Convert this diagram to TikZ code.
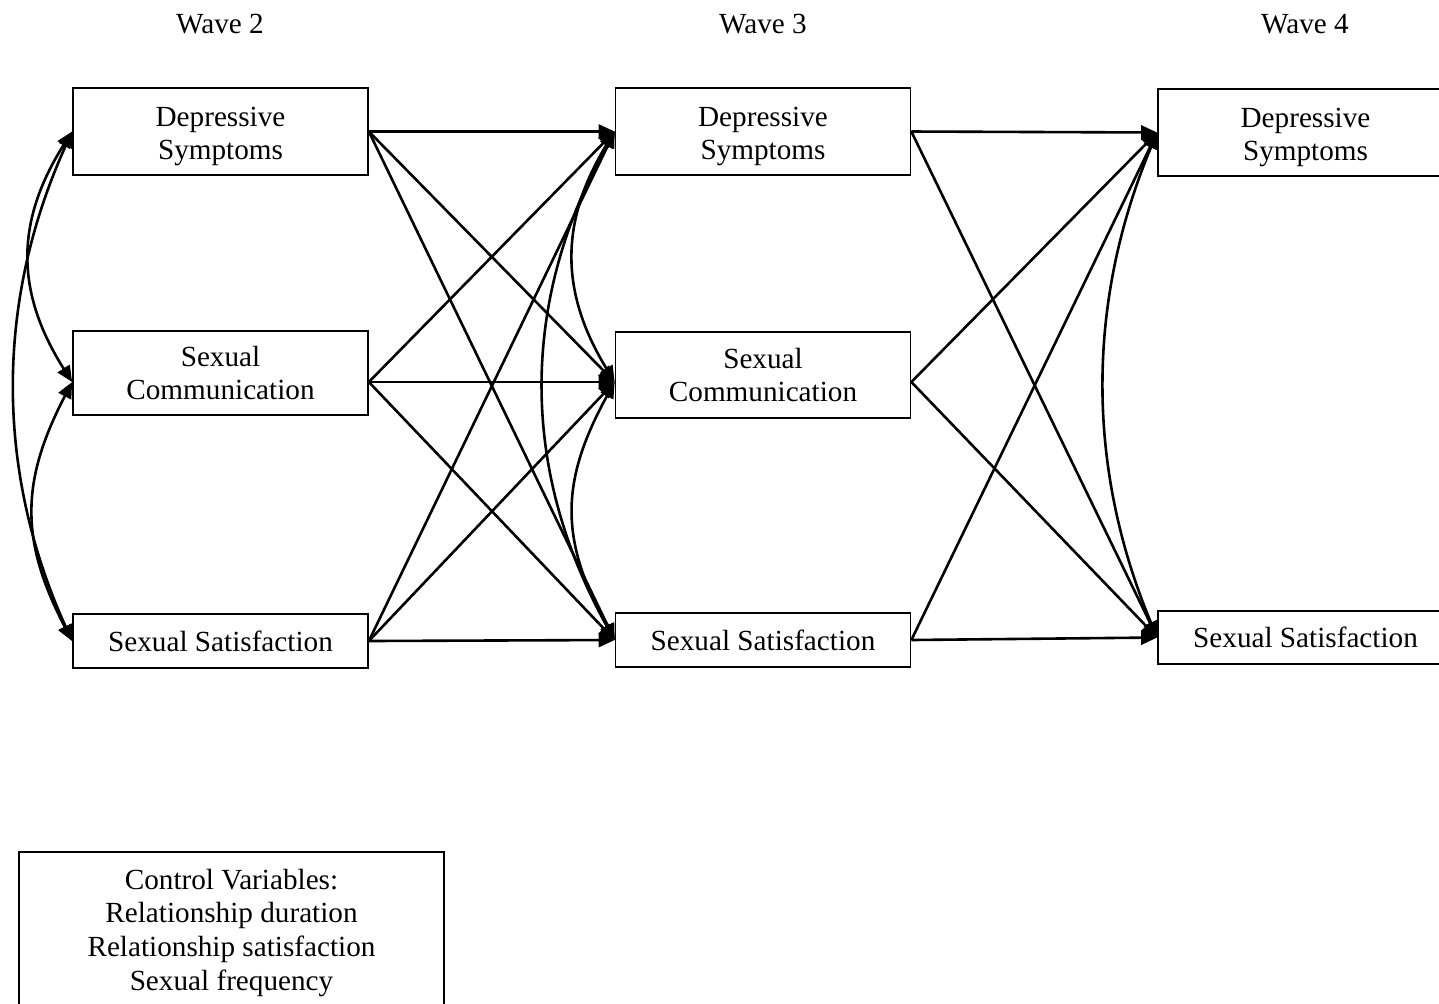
\documentclass[tikz,border=0pt]{standalone}
\usepackage{fontspec}
\setmainfont{Liberation Serif}
\usetikzlibrary{arrows.meta}
\begin{document}
\begin{tikzpicture}[x=0.5pt,y=-0.5pt,
  txt/.style={font=\fontsize{14.6pt}{16.6pt}\selectfont},
  box/.style={txt,draw,line width=0.85pt,minimum width=147.5pt,inner sep=0pt,align=center},
  tipA/.tip={Triangle[length=8pt,width=7pt]},
  reg/.style={-tipA,line width=1.3pt},
  cov/.style={tipA-tipA,line width=1.3pt}]
\clip (0,0) rectangle (1439,1003);
\fill[white] (0,0) rectangle (1439,1003);
% wave labels
\node[txt] (w2) at (220,24) {Wave 2};
\node[txt] (w3) at (763,24) {Wave 3};
\node[txt] (w4) at (1305,24) {Wave 4};
% wave 2
\node[box,minimum height=43.5pt] (ds2) at (220.5,131.5) {\rule{0pt}{14.5pt}Depressive\\Symptoms};
\node[box,minimum height=42pt] (sc2) at (220.5,373) {Sexual\\Communication};
\node[box,minimum height=27pt] (ss2) at (220.5,641) {Sexual Satisfaction};
% wave 3
\node[box,minimum height=43.5pt] (ds3) at (763,131.5) {\rule{0pt}{14.5pt}Depressive\\Symptoms};
\node[box,minimum height=43pt] (sc3) at (763,375) {Sexual\\Communication};
\node[box,minimum height=27pt] (ss3) at (763,640) {Sexual Satisfaction};
% wave 4
\node[box,minimum height=43.5pt] (ds4) at (1305.5,132.5) {\rule{0pt}{14.5pt}Depressive\\Symptoms};
\node[box,minimum height=26.5pt] (ss4) at (1305.5,637.5) {Sexual Satisfaction};
% controls
\node[box,minimum width=212.5pt,minimum height=79pt,font=\fontsize{14.6pt}{16.9pt}\selectfont] (ctrl) at (231.5,931) {\rule{0pt}{12pt}Control Variables:\\Relationship duration\\Relationship satisfaction\\Sexual frequency};
% ports
\coordinate (sc2e) at ([yshift=-4.5pt]sc2.east);
\coordinate (sc2w) at ([yshift=-4.5pt]sc2.west);
\coordinate (sc3e) at ([yshift=-3.5pt]sc3.east);
\coordinate (sc3w) at ([yshift=-3.5pt]sc3.west);
% cross-lagged paths
\foreach \s in {ds2.east,sc2e,ss2.east}
  \foreach \t in {ds3.west,sc3w,ss3.west}
    \draw[reg] (\s) -- (\t);
\foreach \s in {ds3.east,sc3e,ss3.east}
  \foreach \t in {ds4.west,ss4.west}
    \draw[reg] (\s) -- (\t);
% covariances wave 2
\draw[cov] (ds2.west) .. controls +(-57,90) and +(-57,-90) .. (sc2w);
\draw[cov] (sc2w) .. controls +(-52,100) and +(-52,-100) .. (ss2.west);
\draw[cov] (ds2.west) .. controls +(-77,170) and +(-77,-170) .. (ss2.west);
% covariances wave 3
\draw[cov] (ds3.west) .. controls +(-55,90) and +(-55,-90) .. (sc3w);
\draw[cov] (sc3w) .. controls +(-55,100) and +(-55,-100) .. (ss3.west);
\draw[cov] (ds3.west) .. controls +(-95,170) and +(-95,-170) .. (ss3.west);
% covariance wave 4
\draw[cov] (ds4.west) .. controls +(-71,170) and +(-71,-170) .. (ss4.west);
\end{tikzpicture}
\end{document}
